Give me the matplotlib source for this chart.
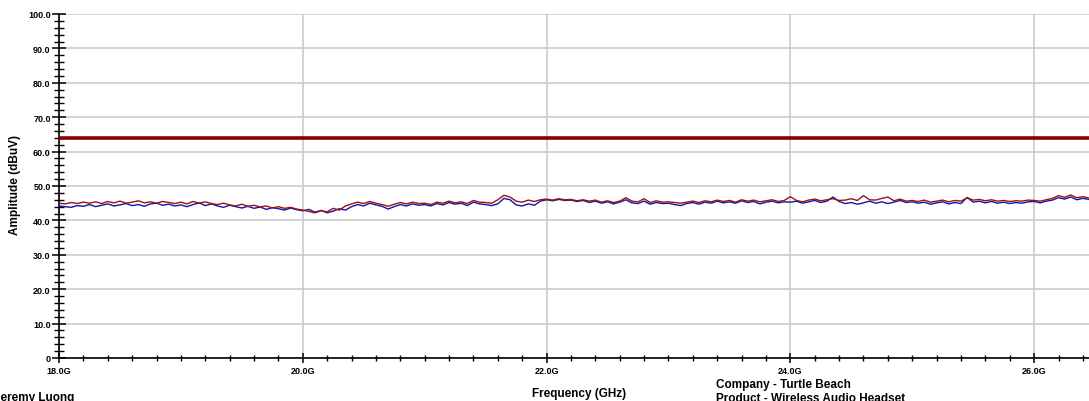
import numpy as np
import matplotlib
matplotlib.use("Agg")
import matplotlib.pyplot as plt
from matplotlib.ticker import MultipleLocator, FixedLocator

# ---- data ----
freq_start_ghz = 18.0
freq_stop_ghz = 26.45
limit_dbuv = 64.0

blue_trace = [
    44.2,44.0,43.8,44.3,44.1,44.6,44.0,44.4,44.8,44.2,44.5,44.9,44.3,44.6,44.1,44.8,45.0,44.4,44.7,44.2,
    44.5,44.0,44.6,45.1,44.3,44.8,44.2,43.8,44.4,44.0,43.6,44.1,43.5,43.9,43.2,43.7,43.4,43.0,43.6,43.1,
    42.8,43.2,42.4,42.9,42.2,42.7,43.4,43.0,44.0,44.6,44.2,45.0,44.5,44.1,43.3,44.0,44.6,44.2,44.8,44.4,
    44.6,44.2,44.9,44.5,45.2,44.7,45.0,44.3,45.3,44.8,44.6,44.3,44.8,46.4,46.0,44.5,44.2,44.8,44.4,45.6,
    46.0,45.7,46.1,45.8,45.9,45.5,45.8,45.2,45.6,45.0,45.4,44.8,45.3,46.0,45.1,44.9,45.6,44.7,45.2,44.9,
    45.0,44.6,44.3,44.9,45.2,44.7,45.3,45.0,45.6,45.1,45.4,45.0,45.7,45.2,45.5,44.8,45.3,45.6,45.1,45.4,
    45.3,45.6,45.0,45.4,45.8,45.2,45.6,46.8,45.5,44.9,45.2,44.7,45.1,45.6,45.0,45.4,44.9,45.3,45.8,45.2,
    45.4,45.0,45.3,44.7,45.1,45.4,44.8,45.2,44.9,46.7,45.3,45.6,45.1,45.5,45.0,45.3,44.9,45.2,45.0,45.4,
    45.5,45.1,45.6,45.9,46.6,46.2,46.8,46.0,46.4,46.1,
]
red_trace = [
    45.0,44.8,45.2,44.9,45.3,45.0,45.4,44.9,45.5,45.1,45.6,45.0,45.3,45.7,45.1,45.4,45.0,45.5,45.2,44.9,
    45.3,44.8,45.5,45.0,45.4,44.9,44.6,45.0,44.5,44.2,44.7,44.1,44.4,43.9,44.2,43.6,44.0,43.5,43.8,43.3,
    43.0,42.6,42.2,42.8,42.5,43.5,43.0,44.2,44.8,45.3,44.9,45.5,45.0,44.6,44.1,44.7,45.2,44.8,45.3,44.9,
    45.0,44.6,45.3,45.0,45.6,45.1,45.4,44.9,45.8,45.3,45.2,45.0,46.0,47.3,46.8,45.6,45.3,45.9,45.5,46.0,
    46.2,45.9,46.3,46.0,46.1,45.7,46.0,45.6,45.9,45.3,45.7,45.2,45.6,46.6,45.6,45.4,46.3,45.2,45.7,45.3,
    45.4,45.2,45.0,45.3,45.6,45.2,45.7,45.4,45.9,45.5,45.8,45.3,46.0,45.6,45.9,45.4,45.7,46.0,45.5,45.8,
    46.9,45.8,45.4,45.9,46.2,45.7,46.0,46.3,45.8,45.9,46.3,45.8,47.2,46.0,45.9,46.4,46.8,45.7,46.2,45.6,
    45.8,45.5,45.9,45.3,45.6,45.9,45.4,45.8,45.6,46.6,45.9,46.1,45.7,46.0,45.6,45.8,45.5,45.7,45.6,45.9,
    45.8,45.6,46.0,46.4,47.2,46.7,47.4,46.6,46.9,46.5,
]
x_major_ticks = [18.0, 20.0, 22.0, 24.0, 26.0]
x_tick_labels = ["18.0G", "20.0G", "22.0G", "24.0G", "26.0G"]
y_major_ticks = [0, 10, 20, 30, 40, 50, 60, 70, 80, 90, 100]
y_tick_labels = ["0", "10.0", "20.0", "30.0", "40.0", "50.0", "60.0", "70.0", "80.0", "90.0", "100.0"]

freqs = np.linspace(freq_start_ghz, freq_stop_ghz, len(blue_trace))

plt.rcParams['font.family'] = ['Liberation Sans Narrow', 'Liberation Sans', 'DejaVu Sans']

fig = plt.figure(figsize=(10.89, 4.02), dpi=100)
ax = fig.add_axes([59/1089, 1-359/402, 1-59/1089, (359-15)/402])

ax.set_xlim(freq_start_ghz, freq_stop_ghz)
ax.set_ylim(0, 100)

ax.grid(True, which='major', color='#cccccc', linewidth=1.2, zorder=0)
ax.set_axisbelow(True)

ax.axhline(limit_dbuv, color='#8b0000', linewidth=2.6, zorder=3)
ax.plot(freqs, blue_trace, color='#0a1aa8', linewidth=1.0, zorder=4)
ax.plot(freqs, red_trace, color='#a01010', linewidth=1.0, zorder=5)

for s in ['top', 'right']:
    ax.spines[s].set_visible(False)
for s in ['left', 'bottom']:
    ax.spines[s].set_color('black')
    ax.spines[s].set_linewidth(1.2)

ax.xaxis.set_major_locator(FixedLocator(x_major_ticks))
ax.set_xticklabels(x_tick_labels, fontsize=6.5, fontweight='bold')
ax.xaxis.set_minor_locator(MultipleLocator(0.2))
ax.yaxis.set_major_locator(FixedLocator(y_major_ticks))
ax.set_yticklabels(y_tick_labels, fontsize=6.5, fontweight='bold')
ax.yaxis.set_minor_locator(MultipleLocator(2))

ax.tick_params(axis='x', which='major', direction='inout', length=7, width=1.1, pad=2, colors='black')
ax.tick_params(axis='x', which='minor', direction='inout', length=5, width=1.0)
ax.tick_params(axis='y', which='major', direction='inout', length=10, width=1.1, pad=1)
ax.tick_params(axis='y', which='minor', direction='inout', length=7, width=1.0)

fig.text(15/1089, 1-185/402, 'Amplitude (dBuV)', rotation=90, ha='center', va='center',
         fontsize=8.5, fontweight='bold', family=['Liberation Sans', 'DejaVu Sans'])
fig.text(579/1089, 1-394/402, 'Frequency (GHz)', ha='center', va='center',
         fontsize=8.5, fontweight='bold', family=['Liberation Sans', 'DejaVu Sans'])
fig.text(716/1089, 1-385/402, 'Company - Turtle Beach', ha='left', va='center',
         fontsize=8.5, fontweight='bold', family=['Liberation Sans', 'DejaVu Sans'])
fig.text(716/1089, 1-399/402, 'Product - Wireless Audio Headset', ha='left', va='center',
         fontsize=8.5, fontweight='bold', family=['Liberation Sans', 'DejaVu Sans'])
fig.text(-6/1089, 1-398/402, 'Jeremy Luong', ha='left', va='center',
         fontsize=8.5, fontweight='bold', family=['Liberation Sans', 'DejaVu Sans'])

fig.savefig('out.png', dpi=100)
